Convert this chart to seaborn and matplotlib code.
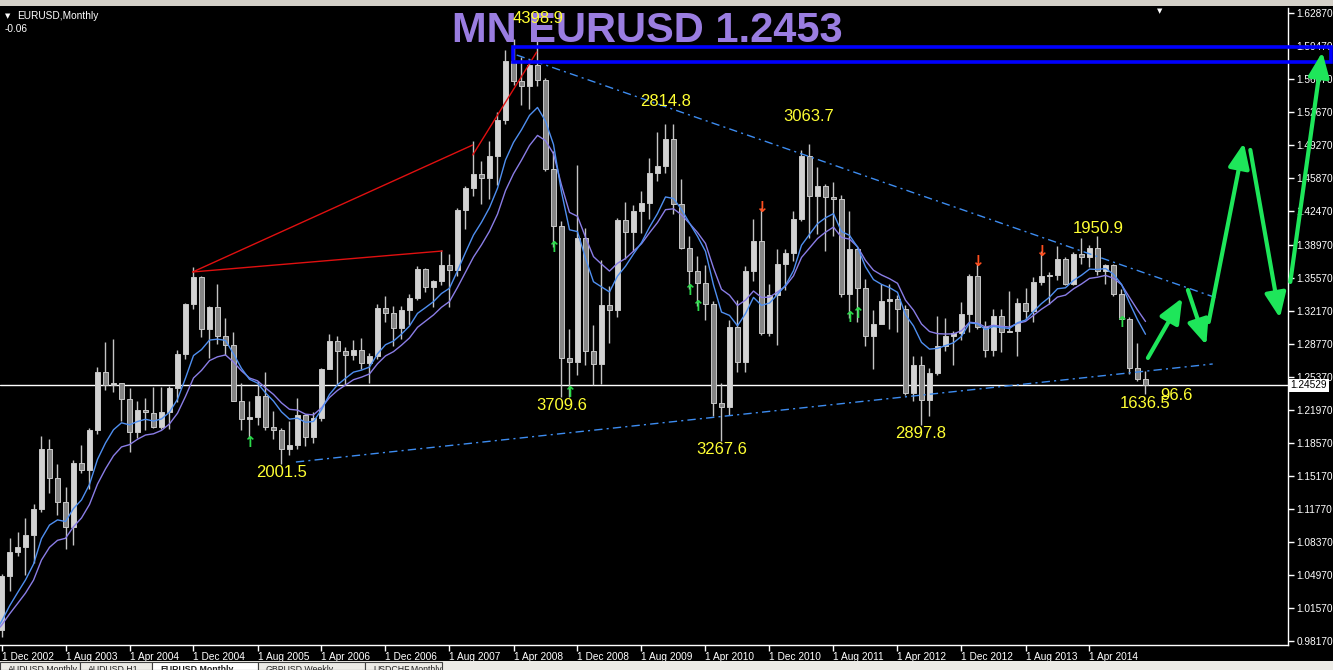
import matplotlib
matplotlib.use("Agg")
import matplotlib.pyplot as plt
from matplotlib.patches import Rectangle
import numpy as np
import pandas as pd
import seaborn as sns


# ── Chart data ────────────────────────────────────────────────────────────────
# EURUSD monthly bars, Jun 2002 .. Nov 2014.  The first six bars sit left of the
# visible window, they only warm up the moving averages.
opens = [
    0.9280, 0.9910, 0.9780, 0.9810, 0.9870, 0.9880, 0.9930,                                   # 2002
    1.0487, 1.0738, 1.0790, 1.0910, 1.1175, 1.1795, 1.1500, 1.1250, 1.0990, 1.1650, 1.1580, 1.1990,  # 2003
    1.2590, 1.2450, 1.2470, 1.2315, 1.1970, 1.2200, 1.2170, 1.2020, 1.2180, 1.2420, 1.2770, 1.3290,  # 2004
    1.3570, 1.3035, 1.3260, 1.2960, 1.2870, 1.2290, 1.2100, 1.2120, 1.2340, 1.2020, 1.1990, 1.1790,  # 2005
    1.1840, 1.2150, 1.1920, 1.2110, 1.2620, 1.2910, 1.2800, 1.2760, 1.2810, 1.2680, 1.2750, 1.3250,  # 2006
    1.3200, 1.3040, 1.3230, 1.3350, 1.3650, 1.3460, 1.3530, 1.3690, 1.3640, 1.4260, 1.4480, 1.4630,  # 2007
    1.4590, 1.4810, 1.5180, 1.5790, 1.5590, 1.5540, 1.5750, 1.5600, 1.4680, 1.4090, 1.2730, 1.2690,  # 2008
    1.3970, 1.2800, 1.2670, 1.3280, 1.3230, 1.4150, 1.4030, 1.4250, 1.4330, 1.4640, 1.4710, 1.4990,  # 2009
    1.4320, 1.3870, 1.3630, 1.3510, 1.3290, 1.2270, 1.2230, 1.3050, 1.2690, 1.3630, 1.3940, 1.2990,  # 2010
    1.3380, 1.3700, 1.3810, 1.4160, 1.4810, 1.4400, 1.4500, 1.4390, 1.4370, 1.3390, 1.3860, 1.3450,  # 2011
    1.2960, 1.3080, 1.3320, 1.3340, 1.3240, 1.2370, 1.2660, 1.2300, 1.2580, 1.2860, 1.2960, 1.2990,  # 2012
    1.3190, 1.3580, 1.3050, 1.2820, 1.3170, 1.3000, 1.3010, 1.3300, 1.3220, 1.3520, 1.3580, 1.3590,  # 2013
    1.3750, 1.3490, 1.3800, 1.3770, 1.3870, 1.3630, 1.3690, 1.3390, 1.3130, 1.2630, 1.2520,          # 2014
]
highs = [
    0.9950, 1.0190, 0.9940, 0.9950, 0.9930, 1.0140, 1.0505,
    1.0880, 1.0935, 1.1080, 1.1230, 1.1933, 1.1900, 1.1640, 1.1400, 1.1680, 1.1840, 1.2010, 1.2640,
    1.2900, 1.2930, 1.2480, 1.2420, 1.2290, 1.2320, 1.2430, 1.2430, 1.2440, 1.2810, 1.3300, 1.3667,
    1.3580, 1.3270, 1.3490, 1.3140, 1.3000, 1.2480, 1.2290, 1.2500, 1.2590, 1.2190, 1.2010, 1.2080,
    1.2320, 1.2160, 1.2180, 1.2630, 1.2980, 1.2960, 1.2850, 1.2920, 1.2940, 1.2780, 1.3290, 1.3370,
    1.3270, 1.3270, 1.3390, 1.3680, 1.3660, 1.3540, 1.3850, 1.3800, 1.4280, 1.4500, 1.4970, 1.4760,
    1.4970, 1.5270, 1.5910, 1.6020, 1.5830, 1.5810, 1.6038, 1.5620, 1.4870, 1.4140, 1.3030, 1.4720,
    1.4070, 1.3070, 1.3740, 1.3470, 1.4170, 1.4340, 1.4310, 1.4450, 1.4790, 1.5060, 1.5140, 1.5140,
    1.4580, 1.3990, 1.3780, 1.3690, 1.3320, 1.2470, 1.3120, 1.3330, 1.3680, 1.4160, 1.4280, 1.3500,
    1.3860, 1.3860, 1.4250, 1.4880, 1.4940, 1.4700, 1.4530, 1.4550, 1.4410, 1.4250, 1.3870, 1.3550,
    1.3230, 1.3490, 1.3490, 1.3380, 1.3280, 1.2750, 1.2750, 1.2630, 1.3170, 1.3140, 1.3010, 1.3310,
    1.3600, 1.3711, 1.3110, 1.3240, 1.3240, 1.3420, 1.3350, 1.3450, 1.3570, 1.3830, 1.3620, 1.3890,
    1.3770, 1.3820, 1.3970, 1.3900, 1.3993, 1.3700, 1.3700, 1.3440, 1.3150, 1.2890, 1.2600,
]
lows = [
    0.9200, 0.9690, 0.9660, 0.9610, 0.9690, 0.9860, 0.9860,
    1.0336, 1.0690, 1.0500, 1.0620, 1.1150, 1.1340, 1.1110, 1.0765, 1.0810, 1.1550, 1.1380, 1.1950,
    1.2400, 1.2380, 1.2080, 1.1760, 1.1910, 1.1990, 1.2010, 1.2000, 1.2000, 1.2280, 1.2720, 1.3240,
    1.2950, 1.2730, 1.2880, 1.2760, 1.2300, 1.1990, 1.1910, 1.2040, 1.1990, 1.1900, 1.1640, 1.1730,
    1.1800, 1.1830, 1.1860, 1.2080, 1.2620, 1.2460, 1.2450, 1.2710, 1.2620, 1.2480, 1.2720, 1.3100,
    1.2860, 1.2930, 1.3070, 1.3330, 1.3410, 1.3260, 1.3480, 1.3260, 1.3580, 1.4060, 1.4400, 1.4320,
    1.4370, 1.4510, 1.5140, 1.5550, 1.5340, 1.5300, 1.5540, 1.4660, 1.3880, 1.2330, 1.2330, 1.2560,
    1.2660, 1.2450, 1.2460, 1.2890, 1.3150, 1.3750, 1.3840, 1.4020, 1.4160, 1.4560, 1.4640, 1.4220,
    1.3860, 1.3440, 1.3270, 1.3120, 1.2140, 1.1880, 1.2150, 1.2590, 1.2590, 1.3530, 1.2970, 1.2960,
    1.2870, 1.3430, 1.3730, 1.4140, 1.3970, 1.4010, 1.3840, 1.3990, 1.3360, 1.3140, 1.3100, 1.2860,
    1.2620, 1.3080, 1.3030, 1.3000, 1.2350, 1.2290, 1.2040, 1.2130, 1.2560, 1.2800, 1.2660, 1.2920,
    1.3000, 1.3030, 1.2740, 1.2750, 1.2790, 1.3000, 1.2750, 1.3130, 1.3100, 1.3480, 1.3290, 1.3540,
    1.3480, 1.3480, 1.3700, 1.3670, 1.3590, 1.3500, 1.3370, 1.3130, 1.2570, 1.2500, 1.2360,
]
closes = [
    0.9910, 0.9780, 0.9810, 0.9870, 0.9880, 0.9930, 1.0487,
    1.0738, 1.0790, 1.0910, 1.1175, 1.1795, 1.1500, 1.1250, 1.0990, 1.1650, 1.1580, 1.1990, 1.2590,
    1.2450, 1.2470, 1.2315, 1.1970, 1.2200, 1.2180, 1.2020, 1.2180, 1.2420, 1.2770, 1.3290, 1.3570,
    1.3035, 1.3260, 1.2960, 1.2870, 1.2290, 1.2100, 1.2120, 1.2340, 1.2020, 1.1990, 1.1790, 1.1840,
    1.2150, 1.1920, 1.2110, 1.2620, 1.2910, 1.2800, 1.2760, 1.2810, 1.2680, 1.2750, 1.3250, 1.3200,
    1.3040, 1.3230, 1.3350, 1.3650, 1.3460, 1.3530, 1.3690, 1.3640, 1.4260, 1.4480, 1.4630, 1.4590,
    1.4810, 1.5180, 1.5790, 1.5590, 1.5540, 1.5750, 1.5600, 1.4680, 1.4090, 1.2730, 1.2690, 1.3970,
    1.2800, 1.2670, 1.3280, 1.3230, 1.4150, 1.4030, 1.4250, 1.4330, 1.4640, 1.4710, 1.4990, 1.4320,
    1.3870, 1.3630, 1.3510, 1.3290, 1.2270, 1.2230, 1.3050, 1.2690, 1.3630, 1.3940, 1.2990, 1.3380,
    1.3700, 1.3810, 1.4160, 1.4810, 1.4400, 1.4500, 1.4390, 1.4370, 1.3390, 1.3860, 1.3450, 1.2960,
    1.3080, 1.3320, 1.3340, 1.3240, 1.2370, 1.2660, 1.2300, 1.2580, 1.2860, 1.2960, 1.2990, 1.3190,
    1.3580, 1.3050, 1.2820, 1.3170, 1.3000, 1.3010, 1.3300, 1.3220, 1.3520, 1.3580, 1.3590, 1.3750,
    1.3490, 1.3800, 1.3770, 1.3870, 1.3630, 1.3690, 1.3390, 1.3130, 1.2630, 1.2520, 1.2453,
]
first_visible = 6          # Dec 2002 is bar 0 on screen

symbol_caption = "EURUSD,Monthly"
indicator_value = "-0.06"
title_text = "MN EURUSD 1.2453"
last_price = 1.24529

x_tick_pos = [0, 8, 16, 24, 32, 40, 48, 56, 64, 72, 80, 88, 96, 104, 112, 120, 128, 136]
x_tick_labels = ["1 Dec 2002", "1 Aug 2003", "1 Apr 2004", "1 Dec 2004", "1 Aug 2005",
                 "1 Apr 2006", "1 Dec 2006", "1 Aug 2007", "1 Apr 2008", "1 Dec 2008",
                 "1 Aug 2009", "1 Apr 2010", "1 Dec 2010", "1 Aug 2011", "1 Apr 2012",
                 "1 Dec 2012", "1 Aug 2013", "1 Apr 2014"]
y_tick_labels = ["1.62870", "1.59470", "1.56070", "1.52670", "1.49270", "1.45870", "1.42470",
                 "1.38970", "1.35570", "1.32170", "1.28770", "1.25370", "1.21970", "1.18570",
                 "1.15170", "1.11770", "1.08370", "1.04970", "1.01570", "0.98170"]

# yellow swing labels: text, bar index, price
wave_labels = ["4398.9", "2814.8", "3063.7", "1950.9", "3709.6",
               "3267.6", "2897.8", "2001.5", "1636.5", "96.6"]
wave_x = [63.9, 79.8, 97.7, 133.9, 66.9, 86.9, 111.7, 31.8, 139.8, 144.9]
wave_y = [1.6235, 1.5380, 1.5225, 1.4062, 1.2238, 1.1785, 1.1950, 1.1548, 1.2259, 1.2341]

# small signal arrows (bar index, price)
up_arrow_x = [31, 69, 71, 86, 87, 106, 107, 140]
up_arrow_y = [1.1857, 1.3866, 1.2382, 1.3433, 1.3258, 1.3145, 1.3196, 1.3103]
down_arrow_x = [95, 122, 130]
down_arrow_y = [1.4288, 1.3722, 1.3825]

# drawn objects, end points as (bar index, price)
red_lines = [((23.9, 1.3619), (58.9, 1.4927)),
             ((23.9, 1.3619), (55.1, 1.3835)),
             ((58.9, 1.4824), (66.9, 1.5885))]
channel_upper = ([64.4, 151.9], [1.5854, 1.3351])
channel_lower = ([36.8, 151.4], [1.1661, 1.2671])
box_x = [63.9, 166.2]
box_y = [1.5782, 1.5937]
plan_arrows = [((143.3, 1.2733), (147.6, 1.3351)),
               ((148.3, 1.3433), (150.6, 1.2866)),
               ((150.9, 1.3103), (155.3, 1.4948)),
               ((156.1, 1.4876), (159.8, 1.3145)),
               ((161.1, 1.3516), (165.1, 1.5885))]

tab_names = ["AUDUSD,Monthly", "AUDUSD,H1", "EURUSD,Monthly", "GBPUSD,Weekly", "USDCHF,Monthly"]
tab_edges = [0, 80, 152, 258, 365, 442]


# ── Style ─────────────────────────────────────────────────────────────────────
sns.set_theme(style="dark", rc={"axes.facecolor": "black", "figure.facecolor": "black",
                                "savefig.facecolor": "black"})
plt.rcParams["font.family"] = ["Liberation Sans", "DejaVu Sans"]

W, H = 1333, 670
fig = plt.figure(figsize=(W / 100, H / 100), dpi=100)
ax = fig.add_axes([0, 25 / H, 1288 / W, 637 / H])
ax.set_facecolor("black")

df = pd.DataFrame({"o": opens, "h": highs, "l": lows, "c": closes})
df["bar"] = np.arange(len(df)) - first_visible
df["ma_fast"] = df["c"].ewm(span=8, adjust=False).mean()
df["ma_slow"] = df["c"].ewm(span=12, adjust=False).mean()

# ── Candles ───────────────────────────────────────────────────────────────────
bull = df["c"] >= df["o"]
body_lo = df[["o", "c"]].min(axis=1)
body_h = (df["c"] - df["o"]).abs().clip(lower=0.0012)
ax.vlines(df["bar"], df["l"], df["h"], colors="#c4c4c4", linewidth=1, zorder=2)
ax.bar(df["bar"], body_h, bottom=body_lo, width=0.7,
       color=np.where(bull, "#d2d2d2", "#858585"), edgecolor="#c8c8c8",
       linewidth=0.7, zorder=3)

ax.axhline(last_price, color="white", linewidth=1, zorder=1.8)

# ── Moving averages ───────────────────────────────────────────────────────────
sns.lineplot(data=df, x="bar", y="ma_slow", ax=ax, color="#8a7de6", linewidth=1,
             estimator=None, sort=False, zorder=4)
sns.lineplot(data=df, x="bar", y="ma_fast", ax=ax, color="#4f8ff0", linewidth=1,
             estimator=None, sort=False, zorder=4)

# ── Drawn objects ─────────────────────────────────────────────────────────────
for (x0, y0), (x1, y1) in red_lines:
    ax.plot([x0, x1], [y0, y1], color="#e01010", linewidth=1, zorder=5)

for xs, ys in (channel_upper, channel_lower):
    ax.plot(xs, ys, color="#3d8cf0", linewidth=1, dashes=[6, 3, 1.5, 3], zorder=5)

ax.text(647 / W, 1 - 31 / H, title_text, transform=fig.transFigure, ha="center",
        va="center", fontsize=30, fontweight="bold", color="#9a7de0", zorder=6)

ax.add_patch(Rectangle((box_x[0], box_y[0]), box_x[1] - box_x[0], box_y[1] - box_y[0],
                       fill=False, edgecolor="#0000ff", linewidth=2.6, clip_on=False,
                       zorder=7))

for txt, x, y in zip(wave_labels, wave_x, wave_y):
    ax.text(x, y, txt, ha="left", va="center", fontsize=12, color="#ffff33", zorder=8)

for x, y in zip(up_arrow_x, up_arrow_y):
    ax.text(x, y, "↑", ha="center", va="center", fontsize=11, fontweight="bold",
            color="#2bd94a", family="DejaVu Sans", zorder=8)
for x, y in zip(down_arrow_x, down_arrow_y):
    ax.text(x, y, "↓", ha="center", va="center", fontsize=11, fontweight="bold",
            color="#ff4f1f", family="DejaVu Sans", zorder=8)

for start, end in plan_arrows:
    ax.annotate("", xy=end, xytext=start, annotation_clip=False, zorder=9,
                arrowprops=dict(arrowstyle="-|>,head_length=0.75,head_width=0.32",
                                mutation_scale=20, lw=3, color="#1ee65a",
                                shrinkA=0, shrinkB=0))

# ── Axes ──────────────────────────────────────────────────────────────────────
ax.set_xlim(-1.5 / 8, (1288 - 1.5) / 8)
ax.set_ylim(1.6287 - (645 - 13) / 970.6, 1.6287 + 5 / 970.6)
ax.set_xlabel("")
ax.set_ylabel("")
ax.grid(False)

ax.set_xticks(x_tick_pos, labels=x_tick_labels, ha="left")
ax.yaxis.tick_right()
ax.set_yticks([float(v) for v in y_tick_labels], labels=y_tick_labels)
ax.tick_params(axis="x", bottom=True, direction="out", length=4, width=1, color="white",
               labelcolor="white", labelsize=7.3, pad=1)
ax.tick_params(axis="y", right=True, left=False, direction="out", length=4, width=1,
               color="white", labelcolor="white", labelsize=7.3, pad=2)
for side in ("top", "left"):
    ax.spines[side].set_visible(False)
for side in ("right", "bottom"):
    ax.spines[side].set_visible(True)
    ax.spines[side].set_color("white")
    ax.spines[side].set_linewidth(1)

ax.text(1.002, last_price, f"{last_price:.5f}", transform=ax.get_yaxis_transform(),
        ha="left", va="center", fontsize=7.3, color="black", clip_on=False, zorder=10,
        bbox=dict(facecolor="white", edgecolor="none", pad=1.2))

# ── Terminal chrome ───────────────────────────────────────────────────────────
fig.add_artist(Rectangle((0, 1 - 6 / H), 1, 6 / H, transform=fig.transFigure,
                         facecolor="#d4d0c8", edgecolor="none"))
fig.text(1160 / W, 1 - 11 / H, "▼", color="white", fontsize=5, ha="center", va="center",
         family="DejaVu Sans")
fig.text(5 / W, 1 - 16 / H, "▼", color="white", fontsize=5, ha="left", va="center",
         family="DejaVu Sans")
fig.text(17 / W, 1 - 16 / H, symbol_caption, color="white", fontsize=7.3, ha="left",
         va="center")
fig.text(5 / W, 1 - 29 / H, indicator_value, color="white", fontsize=7.3, ha="left",
         va="center")

fig.add_artist(Rectangle((0, 0), 1, 9 / H, transform=fig.transFigure,
                         facecolor="#ecebe6", edgecolor="none"))
for k, name in enumerate(tab_names):
    x0, x1 = tab_edges[k], tab_edges[k + 1]
    active = name == "EURUSD,Monthly"
    fig.add_artist(Rectangle((x0 / W, 0), (x1 - x0) / W, 8 / H, transform=fig.transFigure,
                             facecolor="white" if active else "#ecebe6",
                             edgecolor="#404040", linewidth=0.8))
    fig.text((x0 + 8) / W, 5 / H, name, color="#202020", fontsize=6.3, ha="left",
             va="top", fontweight="bold" if active else "normal")

fig.savefig("out.png", dpi=100, facecolor="black")
